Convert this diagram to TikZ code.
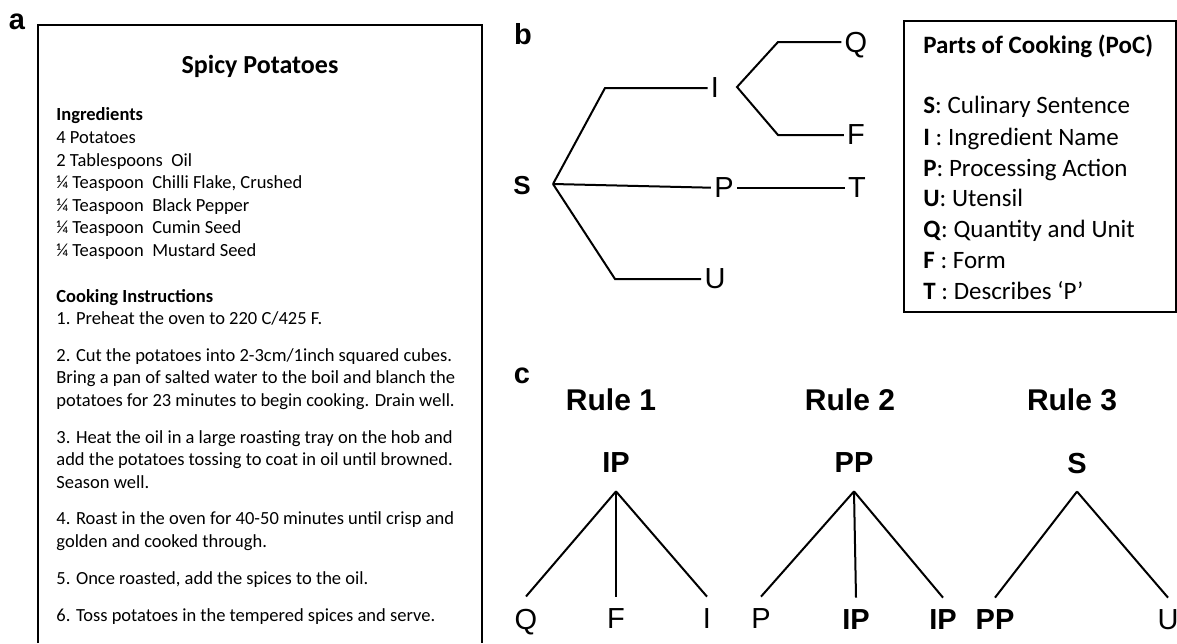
\documentclass[tikz,border=0pt]{standalone}
\usepackage{fontspec}
\setmainfont{Carlito}
\newfontfamily\arialfont{Liberation Sans}

\begin{document}
\begin{tikzpicture}[x=0.5pt,y=-0.5pt,
    recipeline/.style={anchor=base west,inner sep=0pt,font=\fontsize{9.25}{11}\selectfont},
    pocline/.style={anchor=base west,inner sep=0pt,font=\fontsize{12.5}{14}\selectfont},
    panel/.style={font=\arialfont\bfseries\fontsize{14.5}{15}\selectfont,inner sep=0pt,text depth=0pt},
    letter/.style={font=\arialfont\fontsize{14.5}{15}\selectfont,inner xsep=1.5pt,inner ysep=0pt,text depth=0pt},
    leafnode/.style={font=\arialfont\fontsize{14.5}{15}\selectfont,inner xsep=0pt,inner ysep=6pt,text depth=0pt},
    boldleaf/.style={leafnode,font=\arialfont\bfseries\fontsize{14.5}{15}\selectfont},
    parentnode/.style={font=\arialfont\bfseries\fontsize{14.5}{15}\selectfont,inner xsep=0pt,inner ysep=9pt,text depth=0pt},
    rulehead/.style={font=\arialfont\bfseries\fontsize{15}{16}\selectfont,inner sep=0pt},
    branch/.style={line width=1pt}]
                \useasboundingbox (0,0) rectangle (1177,643);

                % a: the recipe
                \node[panel] (la) at (17,22) {a};
                \draw[line width=1.25pt] (38,643) -- (38,25) -- (482,25) -- (482,643);
                \node[recipeline,anchor=base,font=\bfseries\fontsize{13}{15}\selectfont] (title) at (260,73) {Spicy Potatoes};
                \node[recipeline,font=\bfseries\fontsize{9.25}{11}\selectfont] (ingr) at (56,120) {Ingredients};
                \node[recipeline] (ing1) at (56,143) {4 Potatoes};
                \node[recipeline] (ing2) at (56,166) {2 Tablespoons\ \ Oil};
                \node[recipeline] (ing3) at (56,188) {¼ Teaspoon\ \ Chilli Flake, Crushed};
                \node[recipeline] (ing4) at (56,211) {¼ Teaspoon\ \ Black Pepper};
                \node[recipeline] (ing5) at (56,233) {¼ Teaspoon\ \ Cumin Seed};
                \node[recipeline] (ing6) at (56,256) {¼ Teaspoon\ \ Mustard Seed};
                \node[recipeline,font=\bfseries\fontsize{9.25}{11}\selectfont] (instr) at (56,302) {Cooking Instructions};
                \node[recipeline] (st1) at (56,324) {1. Preheat the oven to 220 C/425 F.};
                \node[recipeline] (st2a) at (56,361) {2. Cut the potatoes into 2-3cm/1inch squared cubes.};
                \node[recipeline] (st2b) at (56,383) {Bring a pan of salted water to the boil and blanch the};
                \node[recipeline] (st2c) at (56,406) {potatoes for 23 minutes to begin cooking. Drain well.};
                \node[recipeline] (st3a) at (56,443) {3. Heat the oil in a large roasting tray on the hob and};
                \node[recipeline] (st3b) at (56,465) {add the potatoes tossing to coat in oil until browned.};
                \node[recipeline] (st3c) at (56,488) {Season well.};
                \node[recipeline] (st4a) at (56,524) {4. Roast in the oven for 40-50 minutes until crisp and};
                \node[recipeline] (st4b) at (56,547) {golden and cooked through.};
                \node[recipeline] (st5) at (56,584) {5. Once roasted, add the spices to the oil.};
                \node[recipeline] (st6) at (56,621) {6. Toss potatoes in the tempered spices and serve.};

                % b: parse tree and legend
                \node[panel] (lb) at (523,34) {b};
                \node[font=\arialfont\bfseries\fontsize{13}{14}\selectfont,inner sep=0pt] (bS) at (522,186) {S};
                \coordinate (root) at (553,184);
                \node[letter] (bI) at (715,88) {I};
                \node[letter] (bP) at (724,188) {P};
                \node[letter] (bT) at (857,188) {T};
                \node[letter] (bU) at (715,279) {U};
                \node[letter] (bQ) at (856,42) {Q};
                \node[letter] (bF) at (856,135) {F};
                \coordinate (fork) at (737,87);
                \draw[branch] (root) -- (605,88) -- (bI);
                \draw[branch] (root) -- (bP);
                \draw[branch] (root) -- (615,279) -- (bU);
                \draw[branch] (bP) -- (bT);
                \draw[branch] (bQ) -- (778,42) -- (fork) -- (778,135) -- (bF);

                \draw[line width=0.75pt] (904,21) rectangle (1176,312);
                \node[pocline,font=\bfseries\fontsize{12.5}{14}\selectfont] (poc) at (923,53) {Parts of Cooking (PoC)};
                \node[pocline] (pocS) at (923,113) {\textbf{S}: Culinary Sentence};
                \node[pocline] (pocI) at (923,145) {\textbf{I} : Ingredient Name};
                \node[pocline] (pocP) at (923,176) {\textbf{P}: Processing Action};
                \node[pocline] (pocU) at (923,206) {\textbf{U}: Utensil};
                \node[pocline] (pocQ) at (923,237) {\textbf{Q}: Quantity and Unit};
                \node[pocline] (pocF) at (923,268) {\textbf{F} : Form};
                \node[pocline] (pocT) at (923,299) {\textbf{T} : Describes ‘P’};

                % c: the three rules
                \node[panel] (lc) at (522,376) {c};
                \node[rulehead] (rule1) at (611,400) {Rule 1};
                \node[rulehead] (rule2) at (850,400) {Rule 2};
                \node[rulehead] (rule3) at (1072,400) {Rule 3};

                \node[parentnode] (ip) at (616,463) {IP};
                \node[leafnode] (q1) at (526,619) {Q};
                \node[leafnode] (f1) at (616,619) {F};
                \node[leafnode] (i1) at (707,619) {I};
                \draw[branch] (ip.south) -- (q1.north);
                \draw[branch] (ip.south) -- (f1.north);
                \draw[branch] (ip.south) -- (i1.north);

                \node[parentnode] (pp) at (854,463) {PP};
                \node[leafnode] (p2) at (761,619) {P};
                \node[boldleaf] (ipa) at (856,620) {IP};
                \node[boldleaf] (ipb) at (943,620) {IP};
                \draw[branch] (pp.south) -- (p2.north);
                \draw[branch] (pp.south) -- (ipa.north);
                \draw[branch] (pp.south) -- (ipb.north);

                \node[parentnode] (s3) at (1077,463) {S};
                \node[boldleaf] (pp3) at (995,620) {PP};
                \node[leafnode] (u3) at (1168,620) {U};
                \draw[branch] (s3.south) -- (pp3.north);
                \draw[branch] (s3.south) -- (u3.north);
            \end{tikzpicture}
\end{document}
